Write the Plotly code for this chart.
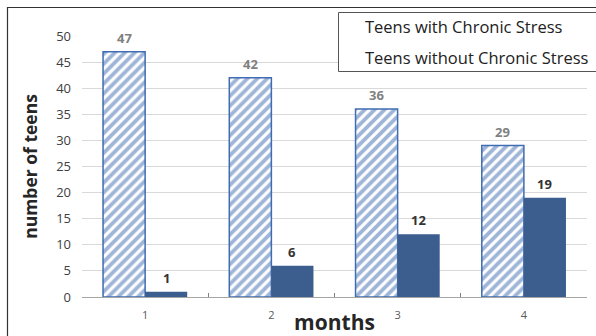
import plotly.graph_objects as go

months = ["1", "2", "3", "4"]
with_stress = [47, 42, 36, 29]
without_stress = [1, 6, 12, 19]
series_names = ["Teens with Chronic Stress", "Teens without Chronic Stress"]

W, H = 596, 336
L, R, T, B = 82, 9, 36, 39
pw, ph = W - L - R, H - T - B


def px_x(p):
    return (p - L) / pw


def px_y(p):
    return (H - B - p) / ph


fig = go.Figure()
fig.add_trace(go.Bar(
    x=months, y=with_stress, name=series_names[0],
    marker=dict(color="white", line=dict(color="#3f6cb2", width=1.5),
                pattern=dict(shape="/", fgcolor="#3f6cb2", bgcolor="white",
                             size=7, solidity=0.55)),
))
fig.add_trace(go.Bar(
    x=months, y=without_stress, name=series_names[1],
    marker=dict(color="#3b5e8f", line=dict(width=0)),
))

ann = []
for i, v in enumerate(with_stress):
    ann.append(dict(x=i, y=v, xref="x", yref="y", text=f"<b>{v}</b>",
                    showarrow=False, xshift=-21, yshift=14,
                    xanchor="center", yanchor="middle",
                    font=dict(size=13, color="#808080", family="Open Sans")))
for i, v in enumerate(without_stress):
    ann.append(dict(x=i, y=v, xref="x", yref="y", text=f"<b>{v}</b>",
                    showarrow=False, xshift=21, yshift=14,
                    xanchor="center", yanchor="middle",
                    font=dict(size=13, color="#333333", family="Open Sans")))

# legend box content (text only)
for name, py in zip(series_names, (27, 57)):
    ann.append(dict(x=px_x(363), y=px_y(py), xref="paper", yref="paper",
                    text=name, showarrow=False, xanchor="left",
                    yanchor="middle",
                    font=dict(size=16.5, color="#222222", family="Open Sans")))

shapes = [
    dict(type="rect", xref="paper", yref="paper",
         x0=px_x(7.5), x1=px_x(602), y0=px_y(7.5), y1=px_y(342),
         line=dict(color="#333333", width=1.2), layer="below"),
    dict(type="rect", xref="paper", yref="paper",
         x0=px_x(338.5), x1=px_x(602), y0=px_y(12.5), y1=px_y(71.5),
         line=dict(color="#555555", width=1), fillcolor="white"),
]

fig.update_layout(
    width=W, height=H,
    margin=dict(l=L, r=R, t=T, b=B, autoexpand=False),
    paper_bgcolor="white", plot_bgcolor="white",
    barmode="group", bargap=1 / 3, bargroupgap=0,
    showlegend=False,
    annotations=ann, shapes=shapes,
    font=dict(family="Open Sans", color="#595959"),
)
fig.update_xaxes(
    type="category", range=[-0.5, len(months) - 0.5], automargin=False,
    showgrid=False, showline=True, linecolor="#a6a6a6",
    linewidth=1, ticks="inside", tickson="boundaries", ticklen=4,
    tickcolor="#808080", tickfont=dict(size=11, color="#595959"),
    ticklabelstandoff=8,
    title=dict(text="<b>months</b>", font=dict(size=21, color="#262626"),
               standoff=0),
)
fig.update_yaxes(
    range=[0, 50], dtick=5, automargin=False,
    showgrid=True, gridcolor="#d9d9d9",
    showline=False, zeroline=False, ticks="", ticklabelstandoff=10,
    tickfont=dict(size=13, color="#404040"),
    title=dict(text="<b>number of teens</b>",
               font=dict(size=17.5, color="#262626"), standoff=14),
)

fig.write_html("out.html")
